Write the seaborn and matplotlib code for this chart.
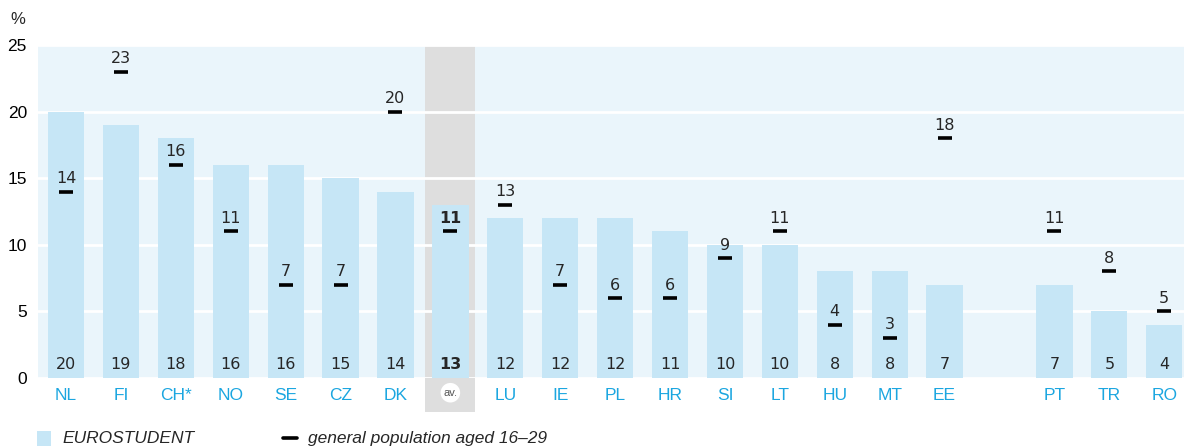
import numpy as np
import pandas as pd
import matplotlib
matplotlib.use('Agg')
import matplotlib.pyplot as plt
from matplotlib.patches import Rectangle
import seaborn as sns

# Data
countries = ['NL', 'FI', 'CH*', 'NO', 'SE', 'CZ', 'DK', 'av.', 'LU', 'IE', 'PL',
             'HR', 'SI', 'LT', 'HU', 'MT', 'EE', 'PT', 'TR', 'RO']
eurostudent = [20, 19, 18, 16, 16, 15, 14, 13, 12, 12, 12, 11, 10, 10, 8, 8, 7, 7, 5, 4]
general_pop = [14, 23, 16, 11, 7, 7, 20, 11, 13, 7, 6, 6, 9, 11, 4, 3, 18, 11, 8, 5]

BAR_COL = '#C6E6F6'
BG_COL = '#EAF5FB'
TICK_COL = '#1BA6E0'
GREY = '#DEDEDE'

# slot positions, with an empty slot between EE and PT
pos = [i if i < 17 else i + 1 for i in range(len(countries))]
df = pd.DataFrame({'pos': pos, 'country': countries,
                   'euro': eurostudent, 'gen': general_pop})

sns.set_style('white')
plt.rcParams['font.family'] = ['Liberation Sans Narrow', 'Liberation Sans', 'DejaVu Sans']

fig = plt.figure(figsize=(11.84, 4.48), dpi=100)
ax = fig.add_axes([38 / 1184, 1 - 378 / 448, 1 - 38 / 1184, 333 / 448])
ax.set_facecolor(BG_COL)

# grey band behind the average column
av_x = df.loc[df['country'] == 'av.', 'pos'].iloc[0]
band = Rectangle((av_x - 0.455, -0.102), 0.91, 1.102, transform=ax.get_xaxis_transform(),
                 facecolor=GREY, edgecolor='none', zorder=0.5, clip_on=False)
ax.add_patch(band)

sns.barplot(data=df, x='pos', y='euro', native_scale=True, width=0.66,
            color=BAR_COL, saturation=1, linewidth=0, edgecolor='none', ax=ax, zorder=2)
ax.plot(df['pos'], df['gen'], linestyle='none', marker='_', markersize=10.5,
        markeredgewidth=2.6, color='black', zorder=4)

for _, r in df.iterrows():
    bold = 'bold' if r['country'] == 'av.' else 'normal'
    ax.text(r['pos'], 1.0, str(r['euro']), ha='center', va='center', fontsize=11.5,
            family='DejaVu Sans', fontweight=bold, zorder=5)
    ax.annotate(str(r['gen']), (r['pos'], r['gen']), xytext=(0, 4),
                textcoords='offset points', ha='center', va='bottom', fontsize=11.5,
                family='DejaVu Sans', fontweight=bold, zorder=5)

ax.set_xlim(-0.51, 20.36)
ax.set_ylim(0, 25)
ax.set_yticks([0, 5, 10, 15, 20, 25])
ax.yaxis.grid(True, color='white', linewidth=2, zorder=1)
ax.set_axisbelow(True)
for s in ax.spines.values():
    s.set_visible(False)
ax.set_xlabel('')
ax.set_ylabel('')
ax.set_xticks(df['pos'])
ax.set_xticklabels(df['country'])
ax.tick_params(axis='x', length=0, pad=7, labelsize=12.5, labelcolor=TICK_COL)
ax.tick_params(axis='y', length=0, pad=8, labelsize=12.5, labelcolor='black')

for lbl in ax.get_xticklabels():
    if lbl.get_text() == 'av.':
        lbl.set_color('#555555')
        lbl.set_fontsize(8)
        lbl.set_bbox(dict(boxstyle='circle,pad=0.25', facecolor='white', edgecolor='none'))

fig.text(18 / 1184, 1 - 20 / 448, '%', fontsize=12, va='center', ha='center')

# legend
fig.patches.append(Rectangle((37 / 1184, 1 - 446 / 448), 14 / 1184, 15 / 448,
                             transform=fig.transFigure, facecolor=BAR_COL,
                             edgecolor='none'))
fig.text(62 / 1184, 1 - 438 / 448, 'EUROSTUDENT', fontsize=12.5, style='italic',
         va='center')
fig.lines.append(plt.Line2D([283 / 1184, 297 / 1184], [1 - 438 / 448, 1 - 438 / 448],
                            transform=fig.transFigure, color='black', linewidth=2.6))
fig.text(308 / 1184, 1 - 438 / 448, 'general population aged 16–29', fontsize=12.5,
         style='italic', va='center')

fig.savefig('out.png', dpi=100)
